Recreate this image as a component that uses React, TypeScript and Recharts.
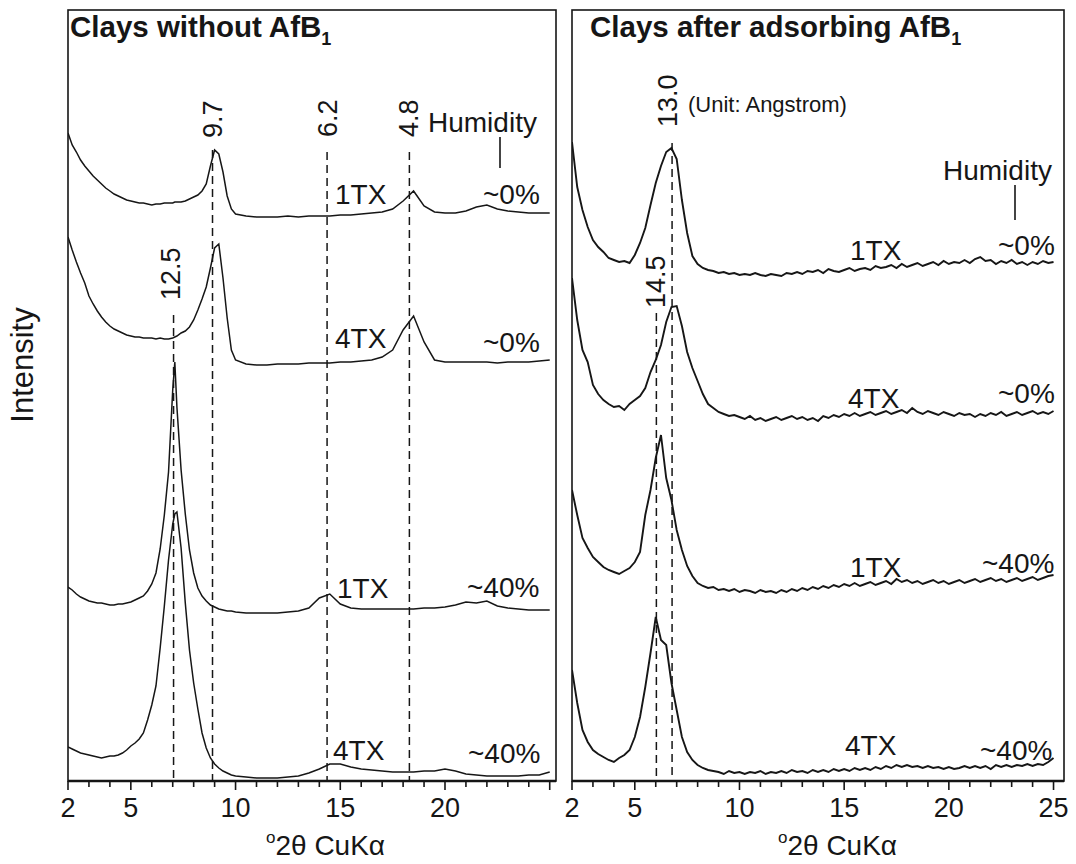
import React from "react";
import { LineChart, Line, XAxis, YAxis, ReferenceLine } from "recharts";

// 2-theta grids (degrees) for each panel
const leftTheta = [
  2.0, 2.2, 2.4, 2.6, 2.8, 3.0, 3.2, 3.4, 3.6, 3.8,
  4.0, 4.2, 4.4, 4.6, 4.8, 5.0, 5.2, 5.4, 5.6, 5.8,
  6.0, 6.2, 6.4, 6.6, 6.8, 7.0, 7.1, 7.2, 7.4, 7.6,
  7.8, 8.0, 8.2, 8.4, 8.6, 8.8, 9.0, 9.2, 9.4, 9.6,
  9.8, 10.0, 10.5, 11, 11.5, 12, 12.5, 13, 13.5, 14,
  14.5, 15, 15.5, 16, 16.5, 17, 17.5, 18, 18.5, 19,
  19.5, 20, 20.5, 21, 21.5, 22, 22.5, 23, 23.5, 24,
  24.5, 25,
];

// intensities above each trace's own baseline (arbitrary units)
const clay1TXdry = [
  83, 71, 64, 56, 50, 45, 40, 36, 32, 28,
  25, 22, 20, 18, 16, 15, 14, 13, 13, 12,
  11, 12, 12, 13, 13, 13, 14, 14, 14, 15,
  17, 19, 21, 25, 32, 50, 66, 62, 44, 20,
  7, 2, 0, -1, -1, -1, 0, -1, 0, 0,
  0, 1, 1, 2, 3, 4, 7, 15, 25, 10,
  4, 3, 3, 5, 9, 11, 7, 5, 4, 3,
  3, 3,
];
const clay4TXdry = [
  127, 114, 102, 91, 81, 68, 60, 53, 47, 42,
  38, 35, 33, 31, 29, 28, 27, 27, 26, 26,
  26, 25, 26, 25, 25, 26, 27, 28, 31, 33,
  37, 44, 54, 65, 77, 96, 116, 120, 86, 46,
  14, 4, 0, -1, -1, 0, 0, 0, 1, 1,
  1, 2, 2, 3, 4, 7, 14, 34, 48, 22,
  4, 2, 2, 2, 2, 2, 1, 2, 2, 2,
  3, 4,
];
const clay1TXwet = [
  25, 22, 18, 15, 13, 11, 10, 9, 9, 8,
  7, 7, 8, 8, 9, 10, 12, 14, 16, 21,
  28, 39, 63, 97, 140, 222, 250, 205, 142, 98,
  62, 39, 24, 16, 11, 7, 5, 3, 2, 1,
  1, 0, -1, -1, -1, -1, 0, 1, 4, 14,
  18, 8, 4, 3, 3, 3, 3, 3, 3, 4,
  4, 5, 7, 10, 9, 11, 6, 4, 3, 2,
  2, 2,
];
const clay4TXwet = [
  31, 29, 27, 25, 24, 23, 22, 21, 20, 21,
  22, 22, 23, 25, 28, 32, 35, 39, 45, 58,
  73, 92, 130, 172, 218, 254, 264, 266, 230, 175,
  128, 95, 69, 45, 30, 20, 14, 10, 7, 5,
  3, 2, 1, 0, 0, 0, 1, 2, 5, 9,
  14, 14, 11, 9, 8, 7, 6, 6, 6, 7,
  7, 9, 7, 4, 3, 2, 2, 2, 2, 3,
  3, 6,
];

const rightTheta = [
  2.0, 2.25, 2.5, 2.75, 3.0, 3.25, 3.5, 3.75, 4.0, 4.25,
  4.5, 4.75, 5.0, 5.25, 5.5, 5.75, 6.0, 6.25, 6.5, 6.75,
  7.0, 7.25, 7.5, 7.75, 8.0, 8.25, 8.5, 8.75, 9.0, 9.25,
  9.5, 9.75, 10.0, 10.25, 10.5, 10.75, 11.0, 11.25, 11.5, 11.75,
  12.0, 12.25, 12.5, 12.75, 13.0, 13.25, 13.5, 13.75, 14.0, 14.25,
  14.5, 14.75, 15.0, 15.25, 15.5, 15.75, 16.0, 16.25, 16.5, 16.75,
  17.0, 17.25, 17.5, 17.75, 18.0, 18.25, 18.5, 18.75, 19.0, 19.25,
  19.5, 19.75, 20.0, 20.25, 20.5, 20.75, 21.0, 21.25, 21.5, 21.75,
  22.0, 22.25, 22.5, 22.75, 23.0, 23.25, 23.5, 23.75, 24.0, 24.25,
  24.5, 24.75, 25.0,
];

const afb1TXdry = [
  132, 87, 64, 47, 34, 27, 22, 16, 14, 12,
  13, 11, 19, 31, 46, 69, 91, 108, 122, 126,
  115, 74, 41, 18, 10, 6, 4, 3, 1, 2,
  0, 1, -1, 0, -1, 1, -1, -2, 0, -1,
  -2, 1, 0, 2, 0, 3, 2, 4, 1, 5,
  3, 2, 4, 6, 3, 5, 6, 4, 8, 6,
  7, 9, 6, 10, 7, 9, 11, 8, 10, 12,
  9, 13, 10, 12, 11, 14, 11, 15, 17, 13,
  14, 10, 13, 11, 14, 10, 12, 9, 12, 10,
  13, 11, 12,
];
const afb4TXdry = [
  141, 99, 69, 57, 34, 25, 19, 15, 12, 13,
  9, 15, 19, 23, 31, 47, 59, 74, 97, 112,
  113, 93, 67, 51, 38, 25, 15, 11, 7, 5,
  3, 4, 2, 0, 3, -1, 1, -2, 0, 2,
  -1, 1, 3, 0, 2, -1, 1, -2, 3, 1,
  4, 2, 5, 3, 6, 3, 5, 7, 4, 6,
  8, 5, 7, 9, 6, 11, 7, 5, 8, 6,
  4, 7, 5, 3, 6, 4, 5, 2, 5, 3,
  6, 4, 7, 3, 5, 7, 4, 6, 8, 5,
  7, 5, 8,
];
const afb1TXwet = [
  100, 75, 52, 42, 33, 28, 23, 20, 18, 16,
  19, 22, 28, 38, 75, 100, 132, 155, 112, 90,
  60, 40, 24, 14, 7, 4, 2, 3, 0, 1,
  -1, 1, -2, 0, -1, -3, 0, -2, -1, -3,
  0, -2, 1, -1, 2, 0, 3, 1, 4, 2,
  5, 3, 6, 4, 7, 4, 6, 8, 5, 7,
  9, 6, 11, 8, 10, 7, 9, 6, 8, 10,
  7, 9, 6, 8, 10, 7, 9, 11, 8, 10,
  12, 9, 11, 8, 10, 12, 9, 11, 13, 10,
  12, 14, 15,
];
const afb4TXwet = [
  102, 69, 42, 30, 22, 18, 15, 12, 10, 14,
  17, 22, 35, 55, 85, 119, 155, 132, 127, 89,
  62, 35, 20, 12, 7, 4, 2, 1, 0, -2,
  1, -1, 0, -2, 0, -1, 1, -2, 0, -1,
  1, -1, 2, 0, 1, -1, 2, 0, 2, 0,
  3, 1, 3, 1, 4, 2, 4, 2, 5, 3,
  6, 4, 7, 5, 7, 5, 6, 4, 6, 4,
  5, 3, 5, 3, 4, 6, 4, 6, 4, 6,
  3, 7, 5, 7, 5, 7, 6, 8, 6, 8,
  7, 10, 14,
];

// vertical stacking offsets of the four traces (top to bottom)
const leftOffsets = [565, 417, 169, 3];
const rightOffsets = [507, 362, 191, 9];

// d-spacing markers (Angstrom) at 2-theta positions
const leftMarkTheta = [7.04, 8.9, 14.37, 18.3];
const leftMarkTop = [466, 631, 629, 629];
const rightMarkTheta = [6.03, 6.78];
const rightMarkTop = [468, 638];

const minorTicks = [2, 3, 4, 5, 6, 7, 8, 9, 10, 11, 12, 13, 14, 15, 16, 17, 18, 19, 20, 21, 22, 23, 24, 25];
const majorTicks = [2, 5, 10, 15, 20, 25];
const leftTickLabels = [2, 5, 10, 15, 20];
const rightTickLabels = [2, 5, 10, 15, 20, 25];

const INK = "#161616";
const FONT = "'Liberation Sans', Arial, Helvetica, sans-serif";

function buildRows(theta: number[], series: number[][], offsets: number[]) {
  return theta.map((t, i) => {
    const row: any = { t };
    series.forEach((s, k) => {
      row["s" + k] = s[i] + offsets[k];
    });
    return row;
  });
}

const leftRows = buildRows(leftTheta, [clay1TXdry, clay4TXdry, clay1TXwet, clay4TXwet], leftOffsets);
const rightRows = buildRows(rightTheta, [afb1TXdry, afb4TXdry, afb1TXwet, afb4TXwet], rightOffsets);

function AxisTick(props: any) {
  const { x, y, payload, labels } = props;
  const v = payload.value;
  const major = majorTicks.includes(v);
  return (
    <g>
      <line x1={x} y1={y} x2={x} y2={y + (major ? 9 : 6)} stroke={INK} strokeWidth={1.6} />
      {labels.includes(v) && (
        <text x={x} y={y + 36} textAnchor="middle" fontSize={27} fontFamily={FONT} fill={INK}>
          {v}
        </text>
      )}
    </g>
  );
}

function Panel({ rows, max, labels, markTheta, markTop, width, margin, lineWidth }: any) {
  return (
    <LineChart width={width} height={864} data={rows} margin={margin}>
      <XAxis
        dataKey="t"
        type="number"
        domain={[2, max]}
        allowDataOverflow
        ticks={minorTicks}
        interval={0}
        tickSize={0}
        tickMargin={0}
        tickLine={false}
        axisLine={{ stroke: INK, strokeWidth: 2.5 }}
        tick={(p: any) => <AxisTick {...p} labels={labels} />}
        height={83}
      />
      <YAxis hide type="number" domain={[0, 771]} allowDataOverflow />
      {markTheta.map((t: number, i: number) => (
        <ReferenceLine
          key={"m" + i}
          segment={[{ x: t, y: markTop[i] }, { x: t, y: 0 }]}
          stroke={INK}
          strokeWidth={1.5}
          strokeDasharray="8 5"
        />
      ))}
      {[0, 1, 2, 3].map((k) => (
        <Line
          key={k}
          dataKey={"s" + k}
          type="linear"
          stroke={INK}
          strokeWidth={lineWidth}
          dot={false}
          isAnimationActive={false}
        />
      ))}
    </LineChart>
  );
}

function T({ x, y, size = 28, children, rotate = false, weight = "normal", anchor = "start" }: any) {
  return (
    <text
      x={x}
      y={y}
      fontSize={size}
      fontFamily={FONT}
      fontWeight={weight}
      fill={INK}
      textAnchor={anchor}
      transform={rotate ? `rotate(-90 ${x} ${y})` : undefined}
    >
      {children}
    </text>
  );
}

export default function App() {
  return (
    <div style={{ position: "absolute", left: 0, top: 0, width: 1076, height: 864, background: "#fff", fontFamily: FONT }}>
      <div style={{ position: "absolute", left: 0, top: 0 }}>
        <Panel
          rows={leftRows}
          max={25.3}
          labels={leftTickLabels}
          markTheta={leftMarkTheta}
          markTop={leftMarkTop}
          width={560}
          margin={{ top: 10, right: 4, bottom: 0, left: 68 }}
          lineWidth={1.5}
        />
      </div>
      <div style={{ position: "absolute", left: 560, top: 0 }}>
        <Panel
          rows={rightRows}
          max={25.5}
          labels={rightTickLabels}
          markTheta={rightMarkTheta}
          markTop={rightMarkTop}
          width={516}
          margin={{ top: 10, right: 12, bottom: 0, left: 12 }}
          lineWidth={1.9}
        />
      </div>
      <svg width={1076} height={864} style={{ position: "absolute", left: 0, top: 0, pointerEvents: "none" }}>
        <rect x={68} y={10} width={488} height={771} fill="none" stroke={INK} strokeWidth={1.6} />
        <rect x={572} y={10} width={492} height={771} fill="none" stroke={INK} strokeWidth={1.6} />

        <text x={70} y={37} fontSize={29.5} fontWeight="bold" fontFamily={FONT} fill={INK}>
          Clays without AfB<tspan fontSize={18} dy={8}>1</tspan>
        </text>
        <text x={590} y={37} fontSize={29.5} fontWeight="bold" fontFamily={FONT} fill={INK}>
          Clays after adsorbing AfB<tspan fontSize={18} dy={8}>1</tspan>
        </text>

        <T x={180} y={300} size={27} rotate>12.5</T>
        <T x={222} y={138} size={27} rotate>9.7</T>
        <T x={337} y={137} size={27} rotate>6.2</T>
        <T x={418} y={137} size={27} rotate>4.8</T>
        <T x={428} y={132}>Humidity</T>
        <line x1={500} y1={137} x2={500} y2={168} stroke={INK} strokeWidth={1.6} />
        <T x={335} y={204}>1TX</T>
        <T x={483} y={204}>~0%</T>
        <T x={335} y={348}>4TX</T>
        <T x={483} y={352}>~0%</T>
        <T x={337} y={598}>1TX</T>
        <T x={467} y={597}>~40%</T>
        <T x={333} y={760}>4TX</T>
        <T x={468} y={763}>~40%</T>

        <T x={677} y={127} size={27} rotate>13.0</T>
        <T x={665} y={308} size={27} rotate>14.5</T>
        <T x={688} y={112} size={22}>(Unit: Angstrom)</T>
        <T x={943} y={180}>Humidity</T>
        <line x1={1015} y1={185} x2={1015} y2={220} stroke={INK} strokeWidth={1.6} />
        <T x={850} y={260}>1TX</T>
        <T x={998} y={255}>~0%</T>
        <T x={848} y={408}>4TX</T>
        <T x={998} y={403}>~0%</T>
        <T x={850} y={577}>1TX</T>
        <T x={982} y={573}>~40%</T>
        <T x={845} y={755}>4TX</T>
        <T x={980} y={760}>~40%</T>

        <T x={33} y={365} size={31} rotate anchor="middle">Intensity</T>
        <text x={266} y={855} fontSize={28} fontFamily={FONT} fill={INK}>
          <tspan fontSize={17} dy={-12}>o</tspan>
          <tspan dy={12}>2θ CuKα</tspan>
        </text>
        <text x={778} y={855} fontSize={28} fontFamily={FONT} fill={INK}>
          <tspan fontSize={17} dy={-12}>o</tspan>
          <tspan dy={12}>2θ CuKα</tspan>
        </text>
      </svg>
    </div>
  );
}
